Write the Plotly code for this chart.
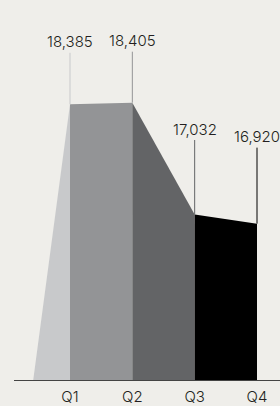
import plotly.graph_objects as go

# ---- data ----
quarters = ["Q1", "Q2", "Q3", "Q4"]
values = [18385, 18405, 17032, 16920]
label_text = ["18,385", "18,405", "17,032", "16,920"]

# ---- style ----
positions = [1, 2, 3, 4]
start_pos = 0.41          # where the first wedge leaves the baseline
y_base = 15000
y_top = 19666
seg_colors = ["#c8c9cb", "#939496", "#636466", "#000000"]
label_offsets = [-62.5, -62, -85.5, -87]   # pixel offsets of labels above points
bg = "#efeeea"
text_color = "#231f20"
font_family = "Inter, Liberation Sans, Arial, sans-serif"

fig = go.Figure()

prev_x, prev_y = start_pos, y_base
for i, (x, v) in enumerate(zip(positions, values)):
    fig.add_trace(go.Scatter(
        x=[prev_x, x], y=[prev_y, v],
        mode="lines", line=dict(width=0),
        fill="tozeroy", fillcolor=seg_colors[i],
        hoverinfo="skip", showlegend=False,
    ))
    prev_x, prev_y = x, v

for i, (x, v) in enumerate(zip(positions, values)):
    fig.add_annotation(
        x=x, y=v, text=label_text[i],
        showarrow=True, arrowhead=0, arrowwidth=1,
        arrowcolor=seg_colors[i], ax=0, ay=label_offsets[i],
        font=dict(size=15, color=text_color, family=font_family, weight=300),
    )

fig.update_layout(
    width=280, height=406,
    margin=dict(l=14, r=0, t=0, b=26),
    paper_bgcolor=bg, plot_bgcolor=bg,
    xaxis=dict(
        range=[0.1016, 4.369],
        tickvals=positions, ticktext=quarters,
        showgrid=False, zeroline=False,
        showline=True, linecolor="#444444", linewidth=1,
        ticks="", ticklabelstandoff=3,
        tickfont=dict(size=15, color=text_color, family=font_family, weight=300),
        fixedrange=True,
    ),
    yaxis=dict(range=[y_base, y_top], visible=False, fixedrange=True),
    showlegend=False,
)

fig.write_html(
    "out.html",
    config={"displayModeBar": False},
    post_script="document.body.style.margin='0';document.body.style.overflow='hidden';document.body.style.background='%s';" % bg,
)
